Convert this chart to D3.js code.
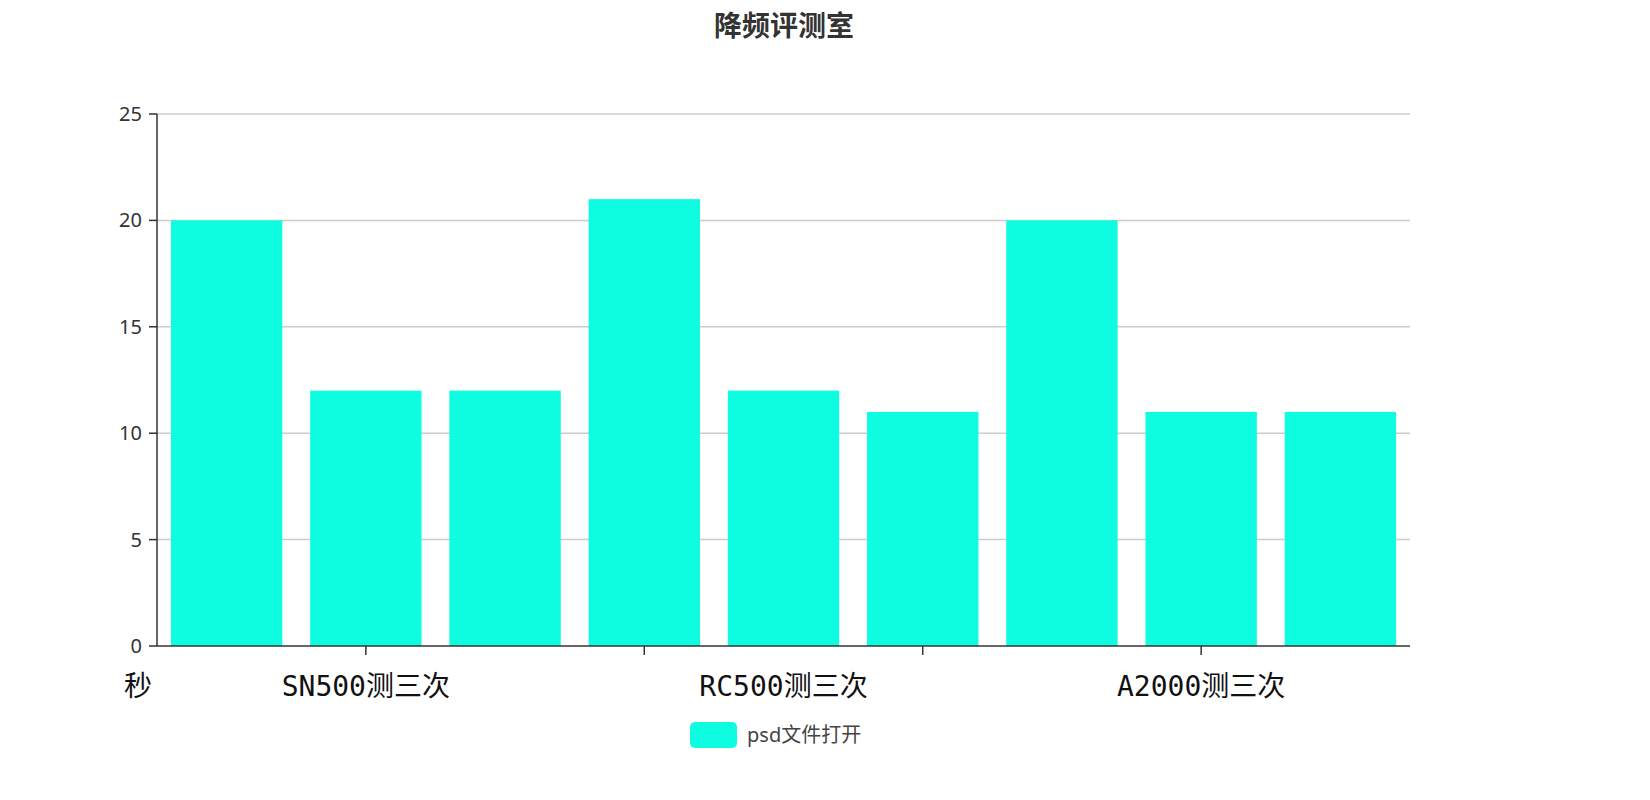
<!DOCTYPE html>
<html><head><meta charset="utf-8">
<script src="https://cdn.jsdelivr.net/npm/d3@7"></script>
<style>body{margin:0;background:#fff;font-family:"Noto Sans","Noto Sans CJK SC",sans-serif;}</style>
</head><body><svg id="chart" width="1650" height="800"></svg>
<script>
// data
var categories = ["SN500-1", "SN500测三次", "SN500-3", "RC500-1", "RC500-2", "RC500测三次", "A2000-1", "A2000测三次", "A2000-3"];
var values = [20, 12, 12, 21, 12, 11, 20, 11, 11];
var tickIdx = [1, 3, 5, 7];
var labelIdx = [1, 4, 7];
var labelText = ["SN500测三次", "RC500测三次", "A2000测三次"];
var yTicks = [0, 5, 10, 15, 20, 25];

var svg = d3.select("#chart");
var x = d3.scaleBand().domain(d3.range(categories.length)).range([157, 1410]).paddingInner(0.2).paddingOuter(0.1);
var y = d3.scaleLinear().domain([0, 25]).range([646, 114]);
var fill = "#0efde0";

svg.append("text").attr("x", 784).attr("y", 36).attr("text-anchor", "middle")
    .attr("font-size", 28).attr("font-weight", "bold").attr("fill", "#333").text("降频评测室");

// grid
svg.selectAll(".grid").data(yTicks.slice(1)).enter().append("line")
    .attr("x1", 157).attr("x2", 1410).attr("y1", d => y(d)).attr("y2", d => y(d))
    .attr("stroke", "#ccc").attr("stroke-width", 1.5);

svg.selectAll(".bar").data(values).enter().append("rect")
    .attr("x", (d, i) => x(i)).attr("width", x.bandwidth())
    .attr("y", d => y(d)).attr("height", d => y(0) - y(d)).attr("fill", fill);

// y axis
svg.append("line").attr("x1", 157).attr("x2", 157).attr("y1", 114).attr("y2", 646).attr("stroke", "#333").attr("stroke-width", 1.5);
yTicks.forEach(function (t) {
    svg.append("line").attr("x1", 149).attr("x2", 157).attr("y1", y(t)).attr("y2", y(t)).attr("stroke", "#333").attr("stroke-width", 1.5);
    svg.append("text").attr("x", 142).attr("y", y(t) + 7).attr("text-anchor", "end")
        .attr("font-size", 20).attr("fill", "#333").text(t);
});

// x axis
svg.append("line").attr("x1", 157).attr("x2", 1410).attr("y1", 646).attr("y2", 646).attr("stroke", "#333").attr("stroke-width", 1.5);
tickIdx.forEach(function (i) {
    var cx = x(i) + x.bandwidth() / 2;
    svg.append("line").attr("x1", cx).attr("x2", cx).attr("y1", 646).attr("y2", 655).attr("stroke", "#333").attr("stroke-width", 1.5);
});
labelIdx.forEach(function (i, k) {
    svg.append("text").attr("x", x(i) + x.bandwidth() / 2).attr("y", 696).attr("text-anchor", "middle")
        .attr("font-family", "'DejaVu Sans Mono','Noto Sans CJK SC',monospace")
        .attr("font-size", 28).attr("fill", "#111").text(labelText[k]);
});
svg.append("text").attr("x", 138).attr("y", 696).attr("text-anchor", "middle")
    .attr("font-size", 28).attr("fill", "#111").attr("font-family", "'Noto Sans CJK SC'").text("秒");

// legend
svg.append("rect").attr("x", 690).attr("y", 722).attr("width", 47).attr("height", 26).attr("rx", 5).attr("fill", fill);
svg.append("text").attr("x", 747).attr("y", 742).attr("font-size", 20).attr("fill", "#444").text("psd文件打开");
</script></body></html>
